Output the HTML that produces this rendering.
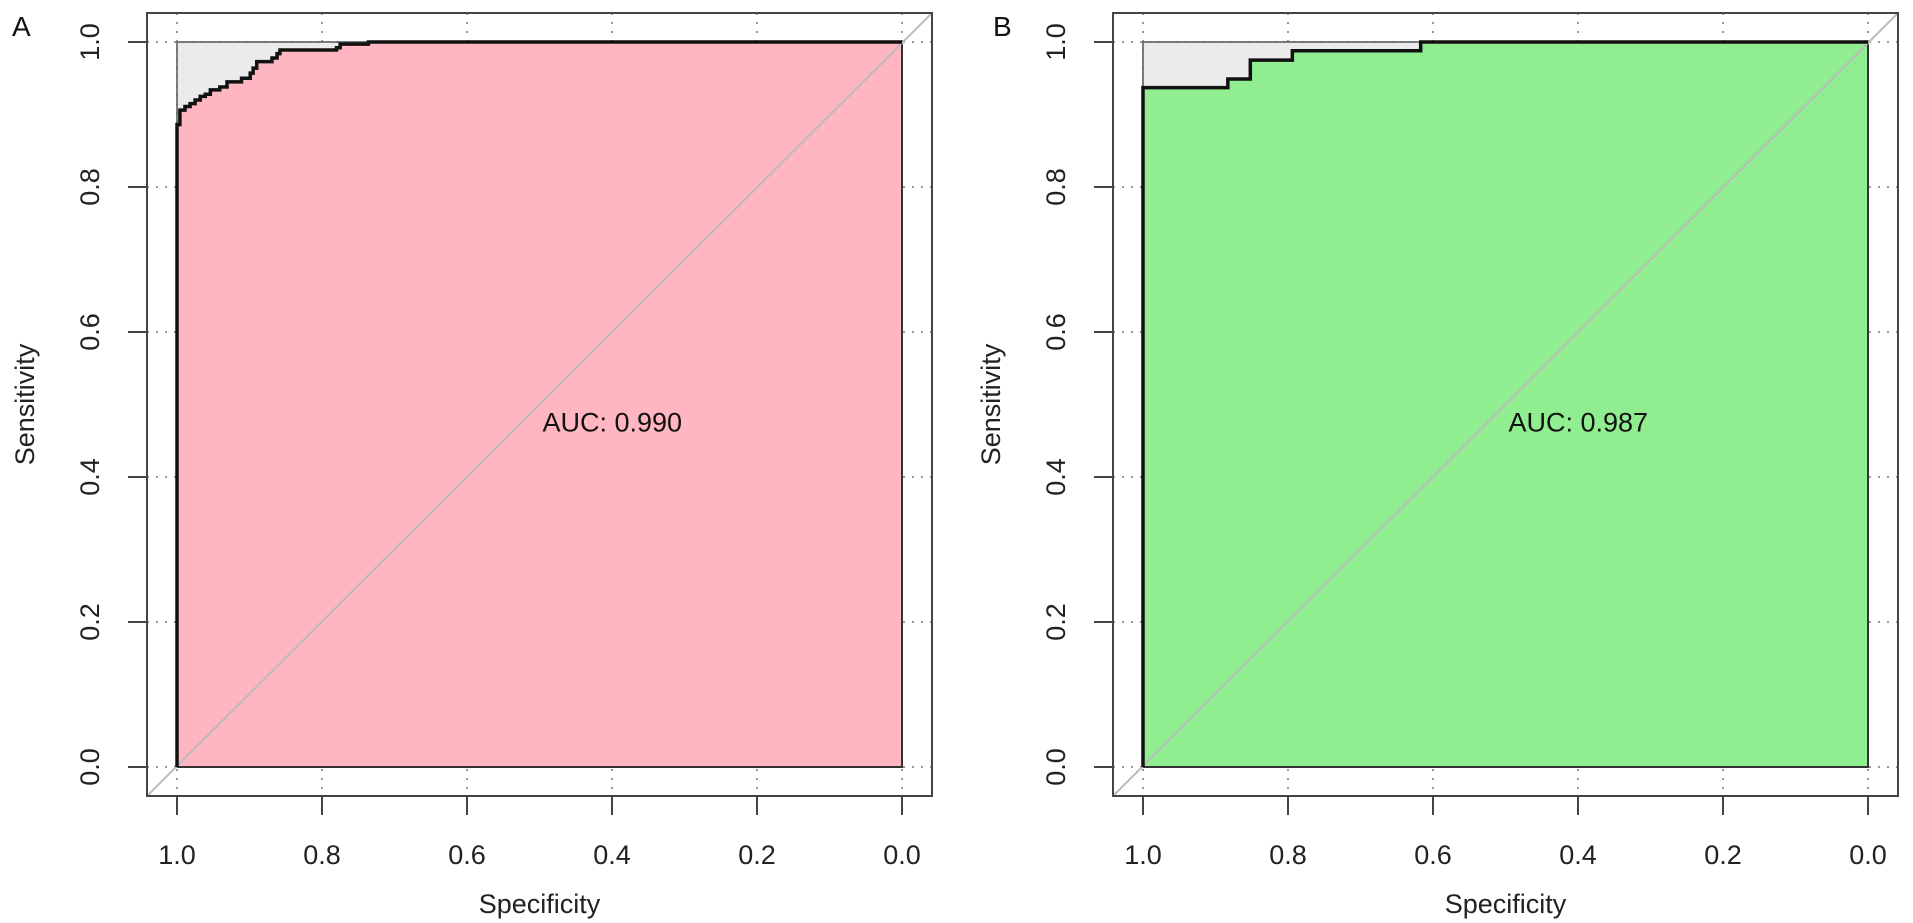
<!DOCTYPE html>
<html><head><meta charset="utf-8"><style>
html,body{margin:0;padding:0;background:#fff;}
svg{display:block;font-family:"Liberation Sans",Arial,sans-serif;}
</style></head><body>
<svg id="chart" width="1913" height="923" viewBox="0 0 1913 923" xmlns="http://www.w3.org/2000/svg"></svg>
<script>
// Panel A data (specificity, sensitivity step vertices)
const specA = [1.0,1.0,0.996,0.996,0.989,0.989,0.982,0.982,0.975,0.975,0.968,0.968,0.961,0.961,0.954,0.954,0.941,0.941,0.931,0.931,0.911,0.911,0.899,0.899,0.895,0.895,0.890,0.890,0.869,0.869,0.862,0.862,0.858,0.858,0.780,0.780,0.775,0.775,0.736,0.736,0.0];
const sensA = [0.0,0.886,0.886,0.906,0.906,0.911,0.911,0.915,0.915,0.920,0.920,0.925,0.925,0.928,0.928,0.934,0.934,0.938,0.938,0.945,0.945,0.950,0.950,0.957,0.957,0.964,0.964,0.973,0.973,0.978,0.978,0.984,0.984,0.989,0.989,0.992,0.992,0.997,0.997,1.0,1.0];
// Panel B data
const specB = [1.0,1.0,0.883,0.883,0.852,0.852,0.794,0.794,0.617,0.617,0.0];
const sensB = [0.0,0.937,0.937,0.949,0.949,0.975,0.975,0.988,0.988,1.0,1.0];
const aucLabels = ["AUC: 0.990","AUC: 0.987"];
const panelLetters = ["A","B"];
const tickVals = [0,0.2,0.4,0.6,0.8,1.0];
const tickLabels = ["0.0","0.2","0.4","0.6","0.8","1.0"];

const NS="http://www.w3.org/2000/svg";
const svg=document.getElementById('chart');
function mk(tag,attrs,parent){const e=document.createElementNS(NS,tag);for(const k in attrs)e.setAttribute(k,attrs[k]);(parent||svg).appendChild(e);return e;}

function panel(offX, spec, sens, fill, auc, letter, idx){
  const L=177+offX, R=902+offX, T=42, B=767, W=R-L, H=B-T;
  const sx=v=>R-(v)*W;
  const sy=v=>B-v*H;
  const g=mk('g',{});
  
  
  const bl=L-30, br=R+30, bt=T-29, bb=B+29;
  tickVals.forEach(t=>{
    const gx=mk('line',{x1:sx(t),x2:sx(t),y1:bt,y2:bb,stroke:'#999','stroke-width':2,'stroke-dasharray':'2,7'},g);
    
    
    const gy=mk('line',{x1:bl,x2:br,y1:sy(t),y2:sy(t),stroke:'#999','stroke-width':2,'stroke-dasharray':'2,7'},g);
    
    
  });
  const bg=mk('rect',{x:L,y:T,width:W,height:H,fill:'#ebebeb',stroke:'#555','stroke-width':1.5},g);
  
  
  let pts=spec.map((s,i)=>sx(s)+','+sy(sens[i])).join(' ');
  pts+=' '+sx(0)+','+sy(0);
  const poly=mk('polygon',{points:pts,fill:fill,stroke:'#333','stroke-width':2},g);
  
  
  const d=mk('line',{x1:bl,y1:bb,x2:br,y2:bt,stroke:'#bbb','stroke-width':2},g);
  
  
  const c=mk('polyline',{points:spec.map((s,i)=>sx(s)+','+sy(sens[i])).join(' '),fill:'none',stroke:'#111','stroke-width':3.5},g);
  
  
  const bx=mk('rect',{x:bl,y:bt,width:br-bl,height:bb-bt,fill:'none',stroke:'#444','stroke-width':2},g);
  
  
  tickVals.forEach((t,i)=>{
    mk('line',{x1:sx(t),x2:sx(t),y1:bb,y2:bb+19,stroke:'#444','stroke-width':2},g);
    const tx=mk('text',{x:sx(t),y:864,'font-size':27,'text-anchor':'middle',fill:'#222'},g);
    tx.textContent=tickLabels[i];
    
    
    mk('line',{x1:bl,x2:bl-19,y1:sy(t),y2:sy(t),stroke:'#444','stroke-width':2},g);
    const ty=mk('text',{x:0,y:0,'font-size':27,'text-anchor':'middle',fill:'#222',transform:`translate(${offX+99},${sy(t)}) rotate(-90)`},g);
    ty.textContent=tickLabels[i];
    
    
  });
  const xt=mk('text',{x:(L+R)/2,y:913,'font-size':27,'text-anchor':'middle',fill:'#222'},g);
  xt.textContent='Specificity';
  
  
  const yt=mk('text',{x:0,y:0,'font-size':27,'text-anchor':'middle',fill:'#222',transform:`translate(${offX+34},${(T+B)/2}) rotate(-90)`},g);
  yt.textContent='Sensitivity';
  
  
  const at=mk('text',{x:sx(0.5)+3,y:sy(0.5)+27,'font-size':27,fill:'#111'},g);
  at.textContent=auc;
  
  
  const lt=mk('text',{x:offX+ (idx===0?12:27),y:36,'font-size':28,fill:'#111'},g);
  lt.textContent=letter;
  
  
}
panel(0,specA,sensA,'#FFB6C1',aucLabels[0],panelLetters[0],0);
panel(966,specB,sensB,'#90EE90',aucLabels[1],panelLetters[1],1);
</script>
</body></html>
